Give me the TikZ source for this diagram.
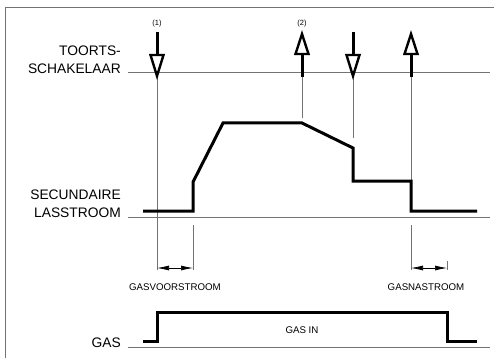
\documentclass[tikz,border=0pt]{standalone}
\usepackage{fontspec}
\setmainfont{Liberation Sans}
\usetikzlibrary{arrows.meta}
\begin{document}
\begin{tikzpicture}[x=1pt,y=-1pt,
  thinline/.style={draw=black!55,line width=0.9pt},
  signal/.style={draw=black,line width=3pt,line join=miter},
  shaft/.style={draw=black,line width=3pt},
  hollowhead/.style={draw=black,fill=white,line width=2.4pt,line join=miter},
  biglabel/.style={font=\fontsize{13.8}{18.5}\selectfont,align=right,inner sep=0pt},
  smalllabel/.style={font=\fontsize{9.7}{11}\selectfont,inner sep=0pt},
  tinylabel/.style={font=\fontsize{7.5}{8}\selectfont,inner sep=0pt},
  dimarrow/.style={draw=black,line width=0.7pt,{Latex[length=12pt,width=5pt]}-{Latex[length=12pt,width=5pt]}}
]
\useasboundingbox (0,0) rectangle (494,358);
% frame
\coordinate (fTL) at (5,7); \coordinate (fTR) at (494,7); \coordinate (fBL) at (5,358);
\draw[thinline] (fBL) -- (fTL) -- (fTR);
% baselines
\coordinate (t0) at (128,72); \coordinate (t1) at (490,72);
\coordinate (l0) at (128,217); \coordinate (l1) at (490,217);
\coordinate (g0) at (128,347); \coordinate (g1) at (490,347);
\draw[thinline] (t0) -- (t1);
\draw[thinline] (l0) -- (l1);
\draw[thinline] (g0) -- (g1);
% labels
\node[biglabel,anchor=east] (toorts) at (121,60) {TOORTS-\\SCHAKELAAR};
\node[biglabel,anchor=east] (lass) at (121,203.5) {SECUNDAIRE\\LASSTROOM};
\node[biglabel,anchor=east] (gas) at (121,343) {GAS};
\node[tinylabel] (n1) at (157,24) {(1)};
\node[tinylabel] (n2) at (302,24) {(2)};
\node[smalllabel] (voor) at (175,287) {GASVOORSTROOM};
\node[smalllabel] (na) at (426,287) {GASNASTROOM};
\node[smalllabel] (gasin) at (302,330) {GAS IN};
% guide lines
\coordinate (v1a) at (157,77); \coordinate (v1b) at (157,270);
\coordinate (v2a) at (193,225); \coordinate (v2b) at (193,270);
\coordinate (v3a) at (302,77); \coordinate (v3b) at (302,118);
\coordinate (v4a) at (353,77); \coordinate (v4b) at (353,138);
\coordinate (v5a) at (411,77); \coordinate (v5b) at (411,180);
\coordinate (v6a) at (411,225); \coordinate (v6b) at (411,270);
\coordinate (v7a) at (447,261); \coordinate (v7b) at (447,270);
\draw[thinline] (v1a) -- (v1b);
\draw[thinline] (v2a) -- (v2b);
\draw[thinline] (v3a) -- (v3b);
\draw[thinline] (v4a) -- (v4b);
\draw[thinline] (v5a) -- (v5b);
\draw[thinline] (v6a) -- (v6b);
\draw[thinline] (v7a) -- (v7b);
% dimension arrows
\coordinate (d1a) at (157,268); \coordinate (d1b) at (193,268);
\coordinate (d2a) at (411,268); \coordinate (d2b) at (447,268);
\draw[dimarrow] (d1a) -- (d1b);
\draw[dimarrow] (d2a) -- (d2b);
% current signal
\coordinate (s0) at (143,211); \coordinate (s1) at (193,211);
\coordinate (s2) at (193,182); \coordinate (s3) at (223,123);
\coordinate (s4) at (302,123); \coordinate (s5) at (353,148);
\coordinate (s6) at (353,181); \coordinate (s7) at (411,181);
\coordinate (s8) at (411,211); \coordinate (s9) at (477,211);
\draw[signal] (s0) -- (s1) -- (s2) -- (s3) -- (s4) -- (s5) -- (s6) -- (s7) -- (s8) -- (s9);
% gas signal
\coordinate (q0) at (143,341); \coordinate (q1) at (157,341);
\coordinate (q2) at (157,312); \coordinate (q3) at (447,312);
\coordinate (q4) at (447,341); \coordinate (q5) at (477,341);
\draw[signal] (q0) -- (q1) -- (q2) -- (q3) -- (q4) -- (q5);
% torch switch arrows
% down (1)
\coordinate (a1s) at (157,32); \coordinate (a1b) at (157,55);
\draw[shaft] (a1s) -- (a1b);
\draw[hollowhead] (150.5,55) -- (163.5,55) -- (157,76) -- cycle;
% up (2)
\coordinate (a2s) at (302,77); \coordinate (a2b) at (302,54);
\draw[shaft] (a2s) -- (a2b);
\draw[hollowhead] (295.5,54) -- (308.5,54) -- (302,34) -- cycle;
% down
\coordinate (a3s) at (353,32); \coordinate (a3b) at (353,55);
\draw[shaft] (a3s) -- (a3b);
\draw[hollowhead] (346.5,55) -- (359.5,55) -- (353,76) -- cycle;
% up
\coordinate (a4s) at (411,77); \coordinate (a4b) at (411,54);
\draw[shaft] (a4s) -- (a4b);
\draw[hollowhead] (404.5,54) -- (417.5,54) -- (411,34) -- cycle;
\end{tikzpicture}
\end{document}
